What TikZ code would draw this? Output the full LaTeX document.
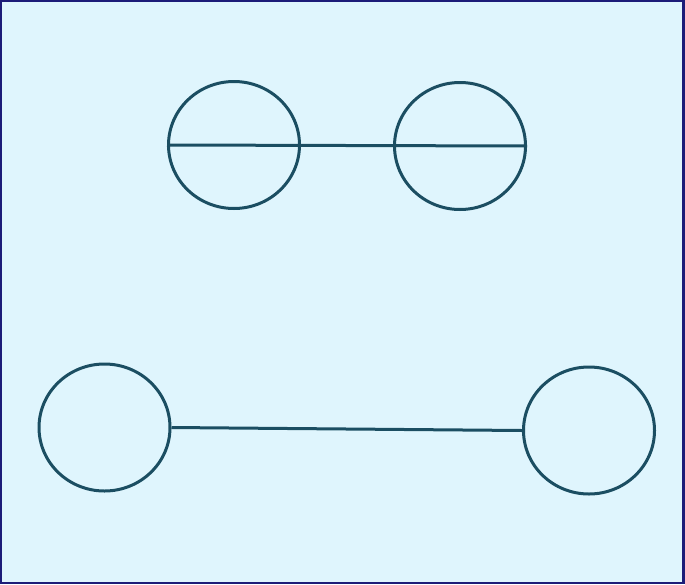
\documentclass[tikz,border=0pt]{standalone}
\usetikzlibrary{shapes.geometric}
\definecolor{bgcyan}{HTML}{DFF5FD}
\definecolor{frame}{HTML}{1C1C78}
\definecolor{ink}{HTML}{1B4E62}
\tikzset{
  ball/.style={ellipse, draw=ink, line width=3pt, minimum width=131pt, minimum height=127pt, inner sep=0pt},
  link/.style={draw=ink, line width=3pt}
}
\begin{document}
\begin{tikzpicture}[x=1pt,y=-1pt]
\fill[frame] (0,0) rectangle (685,584);
\fill[bgcyan] (2,2) rectangle (682,582);
\useasboundingbox (0,0) rectangle (685,584);
\node[ball] (tl) at (234,145) {};
\node[ball] (tr) at (460,146) {};
\node[ball] (bl) at (104.5,427.5) {};
\node[ball] (br) at (589,430.5) {};
\draw[link] (tl.west) -- (tr.east);
\draw[link] (bl.east) -- (br.west);
\end{tikzpicture}
\end{document}
